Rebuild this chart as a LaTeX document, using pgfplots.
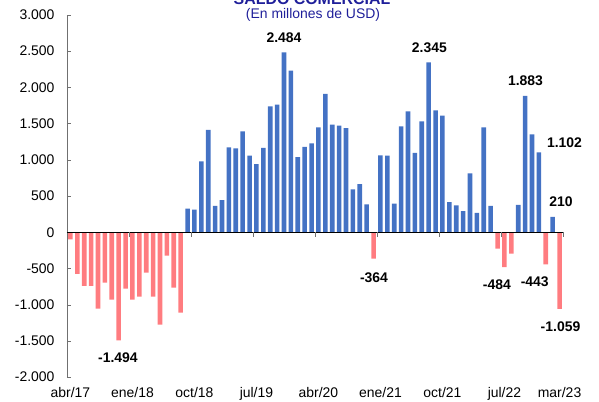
\documentclass[border=0pt]{standalone}
\usepackage{pgfplots}
\pgfplotsset{compat=1.18}
\usepackage{fontspec}
\setmainfont{Liberation Sans}
\definecolor{barblue}{HTML}{4472C4}
\definecolor{barred}{HTML}{FF7C80}
\definecolor{titleblue}{HTML}{1F1F9A}
\definecolor{axgray}{HTML}{707070}
\begin{document}
\begin{tikzpicture}
\begin{axis}[
  scale only axis, width=496bp, height=362bp,
  xmin=-0.5, xmax=71.5, ymin=-2000, ymax=3000,
  axis y line=left, axis x line=bottom,
  x axis line style={draw=none},
  y axis line style={draw=axgray, -},
  xtick={0,9,18,27,36,45,54,63,71},
  xticklabels={abr/17,ene/18,oct/18,jul/19,abr/20,ene/21,oct/21,jul/22,mar/23},
  every major x tick/.append style={draw=none},
  ytick={-2000,-1500,-1000,-500,0,500,1000,1500,2000,2500,3000},
  yticklabels={-2.000,-1.500,-1.000,-500,0,500,1.000,1.500,2.000,2.500,3.000},
  every major y tick/.append style={draw=axgray},
  tick align=inside,
  major tick length=4bp,
  tick label style={font=\fontsize{14}{16}\selectfont},
  yticklabel style={xshift=-9bp},
  xticklabel style={yshift=-2.5bp},
  ybar, bar width=4.6bp, bar shift=0pt,
  clip=false,
]
\addplot[fill=barred, draw=none, bar shift=0pt] coordinates {
(0,-100) (1,-575) (2,-740) (3,-740) (4,-1055) (5,-698) (6,-930) (7,-1494)
(8,-780) (9,-930) (10,-890) (11,-560) (12,-890) (13,-1275) (14,-325)
(15,-765) (16,-1110) (44,-364) (62,-228) (63,-484) (64,-296) (69,-443) (71,-1059)
};
\addplot[fill=barblue, draw=none, bar shift=0pt] coordinates {
(17,327) (18,313) (19,977) (20,1415) (21,364) (22,443) (23,1171) (24,1157)
(25,1392) (26,1056) (27,940) (28,1166) (29,1738) (30,1761) (31,2484) (32,2231)
(33,1037) (34,1180) (35,1226) (36,1448) (37,1909) (38,1485) (39,1471) (40,1438)
(41,590) (42,664) (43,383) (45,1060) (46,1056) (47,396) (48,1461) (49,1669)
(50,1097) (51,1531) (52,2345) (53,1683) (54,1609) (55,415) (56,369) (57,290)
(58,811) (59,267) (60,1448) (61,364) (65,378) (66,1883) (67,1351) (68,1102)
(70,210)
};
\draw[black, line width=0.8bp] (axis cs:-0.5,0) -- (axis cs:71.5,0);
\pgfplotsinvokeforeach{8.5,17.5,26.5,35.5,44.5,53.5,62.5,71.5}{
  \draw[axgray, line width=0.6bp] (axis cs:#1,0) -- ([yshift=-5bp]axis cs:#1,0);
}
\begin{scope}[every node/.style={font=\bfseries\fontsize{14}{16}\selectfont, anchor=center}]
\node at (axis cs:31,2693) {2.484};
\node at (axis cs:52.1,2554) {2.345};
\node at (axis cs:66.06,2098) {1.883};
\node at (axis cs:71.72,1241) {1.102};
\node at (axis cs:71.2,425) {210};
\node at (axis cs:6.9,-1733) {-1.494};
\node at (axis cs:44.06,-627) {-364};
\node at (axis cs:61.9,-723) {-484};
\node at (axis cs:67.4,-682) {-443};
\node at (axis cs:71.14,-1305) {-1.059};
\end{scope}
\end{axis}
\node[anchor=base, font=\bfseries\fontsize{16}{18}\selectfont, text=titleblue] at (245bp,372bp) {SALDO COMERCIAL};
\node[anchor=base, font=\fontsize{14}{16}\selectfont, text=titleblue] at (246bp,358bp) {(En millones de USD)};
\pgfresetboundingbox
\path[use as bounding box] (-67bp,-25bp) rectangle (532bp,377bp);
\end{tikzpicture}
\end{document}
